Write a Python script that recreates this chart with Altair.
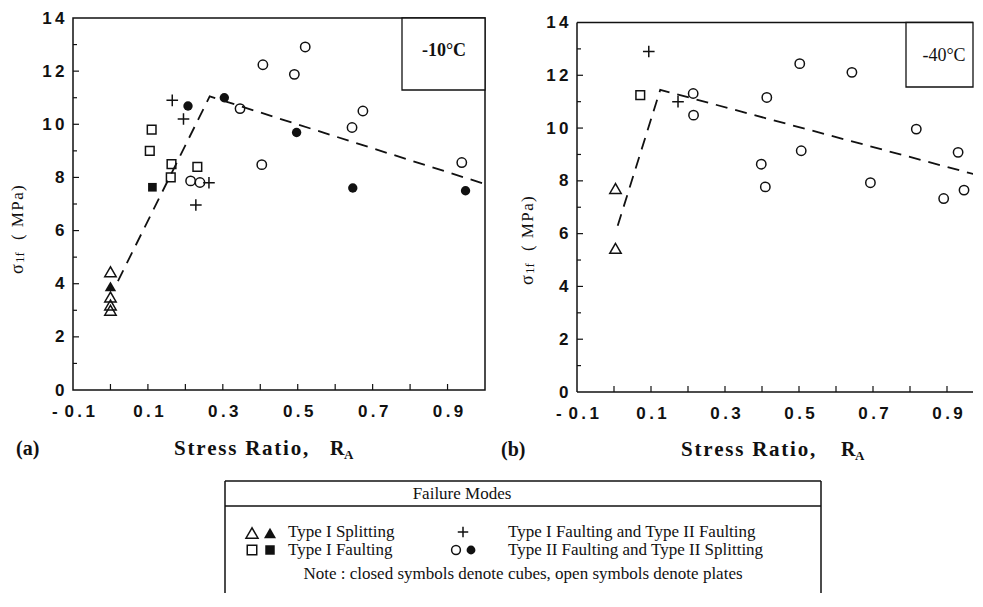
import altair as alt
import pandas as pd

# ---------------- data ----------------
# (a) -10 °C
a_tri_open_x = [0.0, 0.0, 0.0, 0.0]
a_tri_open_y = [4.45, 3.5, 3.2, 3.0]
a_tri_fill_x = [0.0]
a_tri_fill_y = [3.9]
a_sq_open_x = [0.110, 0.105, 0.163, 0.161, 0.232]
a_sq_open_y = [9.8, 9.0, 8.5, 8.0, 8.4]
a_sq_fill_x = [0.112]
a_sq_fill_y = [7.63]
a_plus_x = [0.165, 0.195, 0.263, 0.228]
a_plus_y = [10.9, 10.2, 7.8, 6.96]
a_circ_open_x = [0.214, 0.239, 0.346, 0.407, 0.404, 0.491, 0.520, 0.645, 0.674, 0.938]
a_circ_open_y = [7.87, 7.81, 10.59, 12.24, 8.48, 11.88, 12.91, 9.88, 10.5, 8.56]
a_circ_fill_x = [0.207, 0.304, 0.497, 0.647, 0.948]
a_circ_fill_y = [10.69, 11.0, 9.69, 7.6, 7.5]
a_fit_x = [0.02, 0.265, 1.0]
a_fit_y = [4.1, 11.05, 7.75]

# (b) -40 °C
b_tri_open_x = [0.004, 0.004]
b_tri_open_y = [7.71, 5.44]
b_sq_open_x = [0.071]
b_sq_open_y = [11.25]
b_plus_x = [0.094, 0.173]
b_plus_y = [12.9, 11.0]
b_circ_open_x = [0.214, 0.215, 0.398, 0.409, 0.413, 0.502, 0.506, 0.643, 0.693, 0.817, 0.891, 0.930, 0.946]
b_circ_open_y = [11.31, 10.49, 8.63, 7.77, 11.16, 12.44, 9.14, 12.11, 7.93, 9.96, 7.33, 9.08, 7.65]
b_fit_x = [0.01, 0.125, 1.0]
b_fit_y = [6.3, 11.45, 8.15]

# axes
x_label_values = [-0.1, 0.1, 0.3, 0.5, 0.7, 0.9]
x_tick_values = [0.0, 0.1, 0.2, 0.3, 0.4, 0.5, 0.6, 0.7, 0.8, 0.9]
y_label_values = [0, 2, 4, 6, 8, 10, 12, 14]
y_major_ticks = [2, 4, 6, 8, 10, 12]
y_minor_ticks = [1, 3, 5, 7, 9, 11, 13]
X_MIN, Y_MAX = -0.1, 14

# texts
temp_a = "-10°C"
temp_b = "-40°C"
panel_a = "(a)"
panel_b = "(b)"
x_title = "Stress Ratio,"
x_title_sym = "R"
x_title_sub = "A"
y_title_sym = "σ"
y_title_sub = "1f"
y_title_unit = "( MPa)"
legend_title = "Failure Modes"
legend_left_labels = ["Type I Splitting", "Type I Faulting"]
legend_right_labels = ["Type I Faulting and Type II Faulting", "Type II Faulting and Type II Splitting"]
legend_note = "Note : closed symbols denote cubes, open symbols denote plates"

# ---------------- styling ----------------
INK = "#111111"
SERIF = "Liberation Serif"
SANS = "Liberation Sans"
HS = "\u200a"
TS = "\u2009"
PLUS = "M-1,0H1M0,-1V1"


def spaced(s, ch=HS):
    return ch.join(s)


x_label_expr = ("datum.value < 0 ? '-" + TS + TS + "0" + TS + "." + TS + "1' : "
                "join(split(format(datum.value, '.1f'), ''), '" + TS + "')")
y_label_expr = "join(split(format(datum.value, 'd'), ''), '" + TS + "')"

SYM = {
    "tri_open": dict(shape="triangle-up", filled=False, size=130),
    "tri_fill": dict(shape="triangle-up", filled=True, size=130),
    "sq_open": dict(shape="square", filled=False, size=75),
    "sq_fill": dict(shape="square", filled=True, size=75),
    "plus": dict(shape=PLUS, filled=False, size=135),
    "circ_open": dict(shape="circle", filled=False, size=88),
    "circ_fill": dict(shape="circle", filled=True, size=88),
}


def one(t=""):
    return pd.DataFrame({"t": [t]})


def text_layer(t, x, y, size, font=SERIF, weight="normal", align="left", angle=0, baseline="middle"):
    kw = dict(font=font, fontSize=size, fontWeight=weight, align=align, baseline=baseline, color=INK)
    if angle:
        kw["angle"] = angle
    return alt.Chart(one(t)).mark_text(**kw).encode(
        x=alt.value(x), y=alt.value(y), text="t:N")


def build_panel(groups, fit_x, fit_y, W, H, xdom, ydom):
    xs = alt.Scale(domain=xdom, nice=False, zero=False)
    ys = alt.Scale(domain=ydom, nice=False, zero=False)
    xaxis = alt.Axis(values=x_label_values, labelExpr=x_label_expr, ticks=False, tickSize=0,
                     domain=False, grid=False, labelFont=SANS, labelFontWeight="bold",
                     labelFontSize=17, labelColor=INK, labelPadding=13, title=None,
                     labelOverlap=False, labelFlush=False)
    yaxis = alt.Axis(values=y_label_values, labelExpr=y_label_expr, ticks=False, tickSize=0,
                     domain=False, grid=False, labelFont=SANS, labelFontWeight="bold",
                     labelFontSize=17, labelColor=INK, labelPadding=9, title=None,
                     labelOverlap=False, labelFlush=False)

    def X(f):
        return alt.X(f, type="quantitative", scale=xs, axis=xaxis)

    def Y(f):
        return alt.Y(f, type="quantitative", scale=ys, axis=yaxis)

    layers = []
    layers.append(alt.Chart(pd.DataFrame({"v": x_tick_values})).mark_rule(color=INK, strokeWidth=1.2)
                  .encode(x=X("v"), y=alt.value(H), y2=alt.value(H - 6)))
    layers.append(alt.Chart(pd.DataFrame({"v": y_major_ticks})).mark_rule(color=INK, strokeWidth=1.2)
                  .encode(y=Y("v"), x=alt.value(0), x2=alt.value(6)))
    layers.append(alt.Chart(pd.DataFrame({"v": y_minor_ticks})).mark_rule(color=INK, strokeWidth=1.2)
                  .encode(y=Y("v"), x=alt.value(0), x2=alt.value(4)))
    fit = pd.DataFrame({"x": fit_x, "y": fit_y})
    layers.append(alt.Chart(fit).mark_line(color=INK, strokeWidth=1.8, strokeDash=[12, 8], clip=True)
                  .encode(x=X("x"), y=Y("y")))
    for key, xv, yv in groups:
        st = SYM[key]
        df = pd.DataFrame({"x": xv, "y": yv})
        layers.append(alt.Chart(df).mark_point(shape=st["shape"], filled=st["filled"], size=st["size"],
                                               color=INK, strokeWidth=1.5, opacity=1)
                      .encode(x=X("x"), y=Y("y")))
    return layers, X, Y


# ---------------- panel (a) ----------------
WA, HA = 412, 372
a_groups = [("tri_open", a_tri_open_x, a_tri_open_y), ("tri_fill", a_tri_fill_x, a_tri_fill_y),
            ("sq_open", a_sq_open_x, a_sq_open_y), ("sq_fill", a_sq_fill_x, a_sq_fill_y),
            ("plus", a_plus_x, a_plus_y), ("circ_open", a_circ_open_x, a_circ_open_y),
            ("circ_fill", a_circ_fill_x, a_circ_fill_y)]
la, XA, YA = build_panel(a_groups, a_fit_x, a_fit_y, WA, HA, [X_MIN, 1.0], [0, Y_MAX])
la.append(alt.Chart(one()).mark_rect(fill="white", stroke=INK, strokeWidth=1.3)
          .encode(x=alt.value(WA - 83), x2=alt.value(WA), y=alt.value(0), y2=alt.value(72)))
la.append(text_layer(temp_a, WA - 41, 33, 18, weight="bold", align="center"))
la.append(text_layer(panel_a, -57, 431, 20, weight="bold"))
la.append(text_layer(spaced(x_title), 101, 431, 21, weight="bold"))
la.append(text_layer(x_title_sym, 257, 431, 20, weight="bold"))
la.append(text_layer(x_title_sub, 271, 437, 13, weight="bold"))
la.append(text_layer(y_title_sym, -55, 256, 18, angle=270))
la.append(text_layer(y_title_sub, -53, 245, 13, angle=270))
la.append(text_layer(spaced(y_title_unit), -55, 222, 17, angle=270))
left = alt.layer(*la).properties(width=WA, height=HA,
                                 view=alt.ViewBackground(stroke=INK, strokeWidth=1.5))

# ---------------- panel (b) ----------------
WB, HB = 396, 374
YB_TOP = 14.17
b_groups = [("tri_open", b_tri_open_x, b_tri_open_y), ("sq_open", b_sq_open_x, b_sq_open_y),
            ("plus", b_plus_x, b_plus_y), ("circ_open", b_circ_open_x, b_circ_open_y)]
XB_MAX = X_MIN + WB / 370.0
lb, XB, YB = build_panel(b_groups, b_fit_x, b_fit_y, WB, HB, [X_MIN, XB_MAX], [0, YB_TOP])
frame_v = pd.DataFrame({"x": [X_MIN], "y": [0], "y2": [Y_MAX]})
frame_h = pd.DataFrame({"x": [X_MIN, X_MIN], "x2": [XB_MAX, XB_MAX], "y": [0, Y_MAX]})
lb.append(alt.Chart(frame_v).mark_rule(color=INK, strokeWidth=1.5)
          .encode(x=XB("x"), y=YB("y"), y2="y2:Q"))
lb.append(alt.Chart(frame_h).mark_rule(color=INK, strokeWidth=1.5)
          .encode(x=XB("x"), x2="x2:Q", y=YB("y")))
top_px = HB * (1 - Y_MAX / YB_TOP)
lb.append(alt.Chart(one()).mark_rect(fill="white", stroke=INK, strokeWidth=1.3)
          .encode(x=alt.value(329), x2=alt.value(WB), y=alt.value(top_px), y2=alt.value(69)))
lb.append(text_layer(temp_b, 367, 38, 18, align="center"))
lb.append(text_layer(panel_b, -76, 432, 20, weight="bold"))
lb.append(text_layer(spaced(x_title), 104, 432, 21, weight="bold"))
lb.append(text_layer(x_title_sym, 264, 432, 20, weight="bold"))
lb.append(text_layer(x_title_sub, 278, 438, 13, weight="bold"))
lb.append(text_layer(y_title_sym, -49, 267, 18, angle=270))
lb.append(text_layer(y_title_sub, -47, 256, 13, angle=270))
lb.append(text_layer(spaced(y_title_unit), -49, 233, 17, angle=270))
right = alt.layer(*lb).properties(width=WB, height=HB, view=alt.ViewBackground(strokeWidth=0))

# ---------------- legend box (origin aligned with left plot origin) ----------------
L0 = 73
WL, HL = 890, 112
BX0, BX1 = 225 - L0, 821 - L0
ll = []
ll.append(alt.Chart(one()).mark_rule(color=INK, strokeWidth=1.5)
          .encode(x=alt.value(BX0), x2=alt.value(BX1), y=alt.value(0)))
ll.append(alt.Chart(one()).mark_rule(color=INK, strokeWidth=1.5)
          .encode(x=alt.value(BX0), x2=alt.value(BX1), y=alt.value(25)))
ll.append(alt.Chart(one()).mark_rule(color=INK, strokeWidth=1.5)
          .encode(x=alt.value(BX0), y=alt.value(0), y2=alt.value(HL)))
ll.append(alt.Chart(one()).mark_rule(color=INK, strokeWidth=1.5)
          .encode(x=alt.value(BX1), y=alt.value(0), y2=alt.value(HL)))
ll.append(text_layer(legend_title, 462 - L0, 13, 17, align="center"))
rows_y = [51, 69]
left_syms = [("tri_open", "tri_fill"), ("sq_open", "sq_fill")]
for i, (so, sf) in enumerate(left_syms):
    for key, xx in ((so, 252 - L0), (sf, 270 - L0)):
        st = SYM[key]
        ll.append(alt.Chart(one()).mark_point(shape=st["shape"], filled=st["filled"],
                                              size=st["size"] + 15, color=INK, strokeWidth=1.5, opacity=1)
                  .encode(x=alt.value(xx), y=alt.value(rows_y[i] + (1 if "tri" in key else 0))))
    ll.append(text_layer(legend_left_labels[i], 288 - L0, rows_y[i], 17))
st = SYM["plus"]
ll.append(alt.Chart(one()).mark_point(shape=st["shape"], filled=False, size=110, color=INK,
                                      strokeWidth=1.5, opacity=1)
          .encode(x=alt.value(463 - L0), y=alt.value(rows_y[0])))
for key, xx in (("circ_open", 456 - L0), ("circ_fill", 471 - L0)):
    st = SYM[key]
    ll.append(alt.Chart(one()).mark_point(shape=st["shape"], filled=st["filled"], size=st["size"] - 10,
                                          color=INK, strokeWidth=1.5, opacity=1)
              .encode(x=alt.value(xx), y=alt.value(rows_y[1])))
for i in range(2):
    ll.append(text_layer(legend_right_labels[i], 508 - L0, rows_y[i], 17))
ll.append(text_layer(legend_note, (BX0 + BX1) / 2, 93, 17, align="center"))
legend = alt.layer(*ll).properties(width=WL, height=HL, view=alt.ViewBackground(strokeWidth=0))

chart = alt.vconcat(
    alt.hconcat(left, right, spacing=14),
    legend,
    spacing=17,
).properties(
    padding={"left": 0, "top": 0, "right": 0, "bottom": 0},
    background="white",
).configure_view(stroke=None)

chart.save("out.html", embed_options={"renderer": "svg", "actions": False})
